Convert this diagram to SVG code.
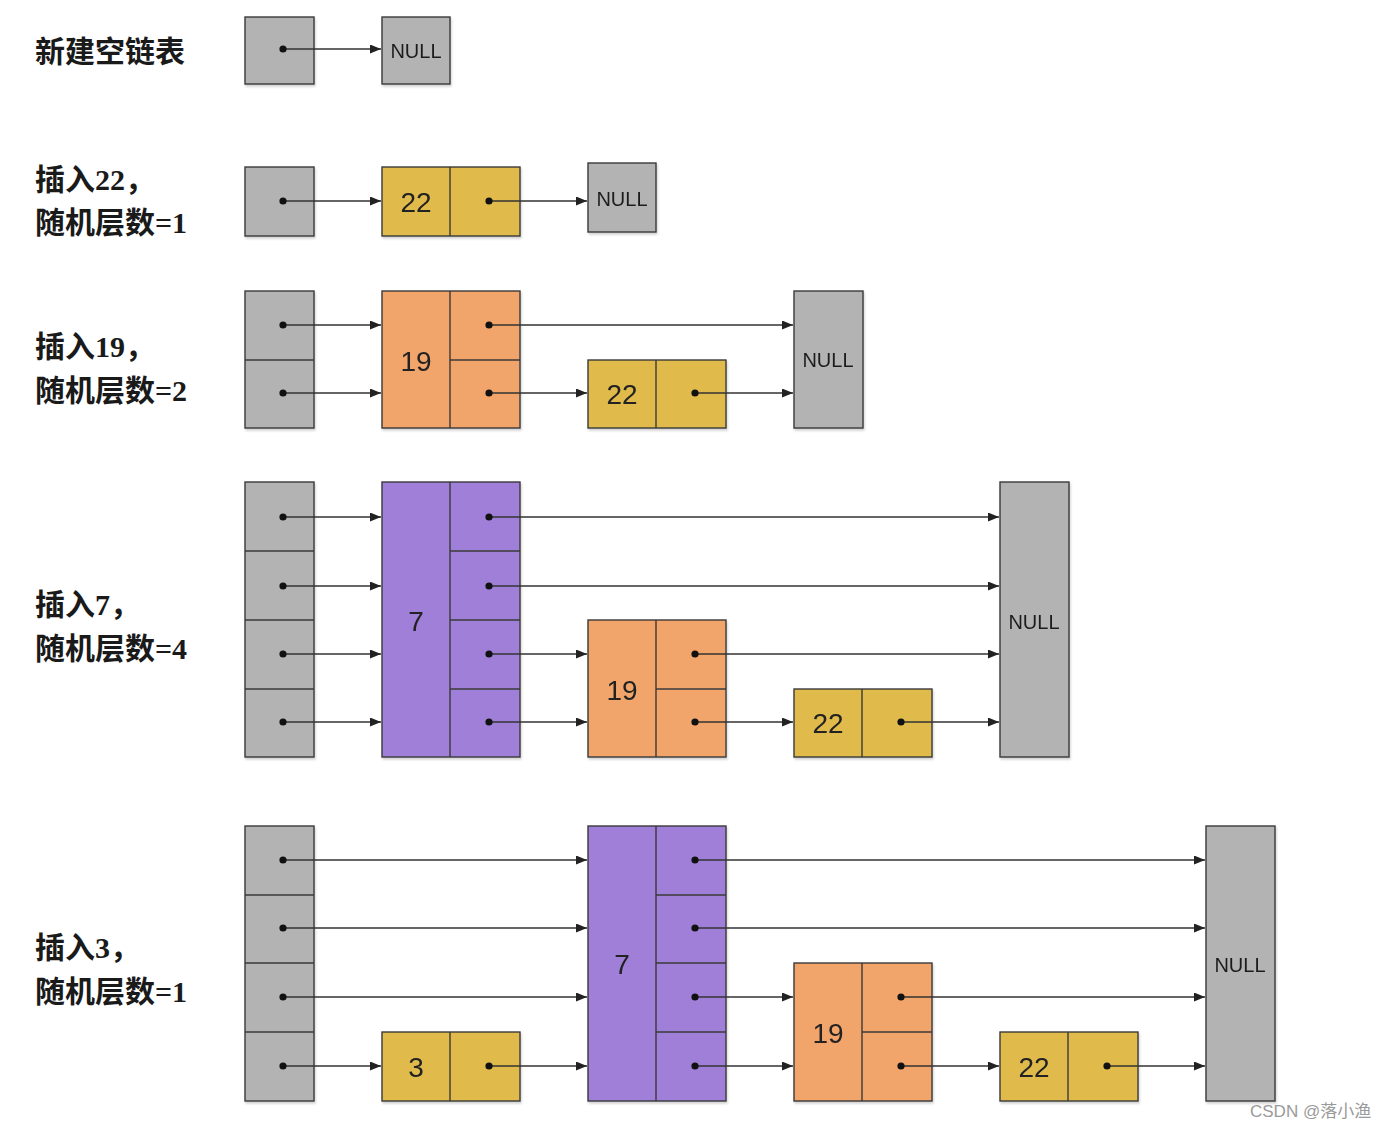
<svg xmlns="http://www.w3.org/2000/svg" width="1396" height="1130" viewBox="0 0 1396 1130">
<style>
.box{stroke:#3a3a3a;stroke-width:1.4}
.g{fill:#b3b3b3}.y{fill:#e0bb4c}.o{fill:#f2a56b}.p{fill:#a07fd8}
.sep{stroke:#3a3a3a;stroke-width:1.4;fill:none}
.num{font-family:"Liberation Sans",Arial,sans-serif;font-size:28px;fill:#222;text-anchor:middle;dominant-baseline:central}
.nul{font-family:"Liberation Sans",Arial,sans-serif;font-size:20px;fill:#1e1e1e;text-anchor:middle;dominant-baseline:central}
.lbl{font-family:"Liberation Serif","Noto Sans CJK SC",serif;font-weight:bold;font-size:30px;fill:#1a1a1a}
.arr{stroke:#333;stroke-width:1.3;fill:none;marker-start:url(#dot);marker-end:url(#head)}
.wm{font-family:"Liberation Sans","Noto Sans CJK SC",sans-serif;font-size:17px;fill:#9a9a9a}
</style>
<defs>
<marker id="head" viewBox="0 0 11 9" refX="11" refY="4.5" markerWidth="11" markerHeight="9" markerUnits="userSpaceOnUse" orient="auto"><path d="M0,0 L11,4.5 L0,9 Z" fill="#222"/></marker>
<marker id="dot" viewBox="0 0 8 8" refX="4" refY="4" markerWidth="8" markerHeight="8" markerUnits="userSpaceOnUse"><circle cx="4" cy="4" r="3.6" fill="#111"/></marker>
<filter id="sh" x="-10%" y="-10%" width="130%" height="130%"><feDropShadow dx="1" dy="2" stdDeviation="1.2" flood-color="#000" flood-opacity="0.18"/></filter>
</defs>
<rect width="1396" height="1130" fill="#fff"/>

<!-- labels -->
<g id="labels">
<text class="lbl" x="35" y="62">新建空链表</text>
<text class="lbl" x="35" y="190">插入22，</text>
<text class="lbl" x="35" y="233">随机层数=1</text>
<text class="lbl" x="35" y="357">插入19，</text>
<text class="lbl" x="35" y="401">随机层数=2</text>
<text class="lbl" x="35" y="615">插入7，</text>
<text class="lbl" x="35" y="659">随机层数=4</text>
<text class="lbl" x="35" y="958">插入3，</text>
<text class="lbl" x="35" y="1002">随机层数=1</text>
</g>

<!-- Row 1 -->
<g id="r1-head" filter="url(#sh)"><rect class="box g" x="245" y="17" width="69" height="67"/></g>
<g id="r1-null" filter="url(#sh)"><rect class="box g" x="382" y="17" width="68" height="67"/><text class="nul" x="416" y="51">NULL</text></g>

<!-- Row 2 -->
<g id="r2-head" filter="url(#sh)"><rect class="box g" x="245" y="167" width="69" height="69"/></g>
<g id="r2-n22" filter="url(#sh)"><rect class="box y" x="382" y="167" width="138" height="69"/><line class="sep" x1="450" y1="167" x2="450" y2="236"/><text class="num" x="416" y="202">22</text></g>
<g id="r2-null" filter="url(#sh)"><rect class="box g" x="588" y="163" width="68" height="69"/><text class="nul" x="622" y="199">NULL</text></g>

<!-- Row 3 -->
<g id="r3-head" filter="url(#sh)"><rect class="box g" x="245" y="291" width="69" height="137"/><line class="sep" x1="245" y1="360" x2="314" y2="360"/></g>
<g id="r3-n19" filter="url(#sh)"><rect class="box o" x="382" y="291" width="138" height="137"/><line class="sep" x1="450" y1="291" x2="450" y2="428"/><line class="sep" x1="450" y1="360" x2="520" y2="360"/><text class="num" x="416" y="361">19</text></g>
<g id="r3-n22" filter="url(#sh)"><rect class="box y" x="588" y="360" width="138" height="68"/><line class="sep" x1="656" y1="360" x2="656" y2="428"/><text class="num" x="622" y="394">22</text></g>
<g id="r3-null" filter="url(#sh)"><rect class="box g" x="794" y="291" width="69" height="137"/><text class="nul" x="828" y="360">NULL</text></g>

<!-- Row 4 -->
<g id="r4-head" filter="url(#sh)"><rect class="box g" x="245" y="482" width="69" height="275"/><line class="sep" x1="245" y1="551" x2="314" y2="551"/><line class="sep" x1="245" y1="620" x2="314" y2="620"/><line class="sep" x1="245" y1="689" x2="314" y2="689"/></g>
<g id="r4-n7" filter="url(#sh)"><rect class="box p" x="382" y="482" width="138" height="275"/><line class="sep" x1="450" y1="482" x2="450" y2="757"/><line class="sep" x1="450" y1="551" x2="520" y2="551"/><line class="sep" x1="450" y1="620" x2="520" y2="620"/><line class="sep" x1="450" y1="689" x2="520" y2="689"/><text class="num" x="416" y="621">7</text></g>
<g id="r4-n19" filter="url(#sh)"><rect class="box o" x="588" y="620" width="138" height="137"/><line class="sep" x1="656" y1="620" x2="656" y2="757"/><line class="sep" x1="656" y1="689" x2="726" y2="689"/><text class="num" x="622" y="690">19</text></g>
<g id="r4-n22" filter="url(#sh)"><rect class="box y" x="794" y="689" width="138" height="68"/><line class="sep" x1="862" y1="689" x2="862" y2="757"/><text class="num" x="828" y="723">22</text></g>
<g id="r4-null" filter="url(#sh)"><rect class="box g" x="1000" y="482" width="69" height="275"/><text class="nul" x="1034" y="622">NULL</text></g>

<!-- Row 5 -->
<g id="r5-head" filter="url(#sh)"><rect class="box g" x="245" y="826" width="69" height="275"/><line class="sep" x1="245" y1="895" x2="314" y2="895"/><line class="sep" x1="245" y1="963" x2="314" y2="963"/><line class="sep" x1="245" y1="1032" x2="314" y2="1032"/></g>
<g id="r5-n3" filter="url(#sh)"><rect class="box y" x="382" y="1032" width="138" height="69"/><line class="sep" x1="450" y1="1032" x2="450" y2="1101"/><text class="num" x="416" y="1067">3</text></g>
<g id="r5-n7" filter="url(#sh)"><rect class="box p" x="588" y="826" width="138" height="275"/><line class="sep" x1="656" y1="826" x2="656" y2="1101"/><line class="sep" x1="656" y1="895" x2="726" y2="895"/><line class="sep" x1="656" y1="963" x2="726" y2="963"/><line class="sep" x1="656" y1="1032" x2="726" y2="1032"/><text class="num" x="622" y="964">7</text></g>
<g id="r5-n19" filter="url(#sh)"><rect class="box o" x="794" y="963" width="138" height="138"/><line class="sep" x1="862" y1="963" x2="862" y2="1101"/><line class="sep" x1="862" y1="1032" x2="932" y2="1032"/><text class="num" x="828" y="1033">19</text></g>
<g id="r5-n22" filter="url(#sh)"><rect class="box y" x="1000" y="1032" width="138" height="69"/><line class="sep" x1="1068" y1="1032" x2="1068" y2="1101"/><text class="num" x="1034" y="1067">22</text></g>
<g id="r5-null" filter="url(#sh)"><rect class="box g" x="1206" y="826" width="69" height="275"/><text class="nul" x="1240" y="965">NULL</text></g>

<!-- connectors -->
<g id="connectors">
<line class="arr" x1="283" y1="49" x2="381" y2="49"/>
<line class="arr" x1="283" y1="201" x2="381" y2="201"/>
<line class="arr" x1="489" y1="201" x2="587" y2="201"/>
<line class="arr" x1="283" y1="325" x2="381" y2="325"/>
<line class="arr" x1="489" y1="325" x2="793" y2="325"/>
<line class="arr" x1="283" y1="393" x2="381" y2="393"/>
<line class="arr" x1="489" y1="393" x2="587" y2="393"/>
<line class="arr" x1="695" y1="393" x2="793" y2="393"/>
<line class="arr" x1="283" y1="517" x2="381" y2="517"/>
<line class="arr" x1="489" y1="517" x2="999" y2="517"/>
<line class="arr" x1="283" y1="586" x2="381" y2="586"/>
<line class="arr" x1="489" y1="586" x2="999" y2="586"/>
<line class="arr" x1="283" y1="654" x2="381" y2="654"/>
<line class="arr" x1="489" y1="654" x2="587" y2="654"/>
<line class="arr" x1="695" y1="654" x2="999" y2="654"/>
<line class="arr" x1="283" y1="722" x2="381" y2="722"/>
<line class="arr" x1="489" y1="722" x2="587" y2="722"/>
<line class="arr" x1="695" y1="722" x2="793" y2="722"/>
<line class="arr" x1="901" y1="722" x2="999" y2="722"/>
<line class="arr" x1="283" y1="860" x2="587" y2="860"/>
<line class="arr" x1="695" y1="860" x2="1205" y2="860"/>
<line class="arr" x1="283" y1="928" x2="587" y2="928"/>
<line class="arr" x1="695" y1="928" x2="1205" y2="928"/>
<line class="arr" x1="283" y1="997" x2="587" y2="997"/>
<line class="arr" x1="695" y1="997" x2="793" y2="997"/>
<line class="arr" x1="901" y1="997" x2="1205" y2="997"/>
<line class="arr" x1="283" y1="1066" x2="381" y2="1066"/>
<line class="arr" x1="489" y1="1066" x2="587" y2="1066"/>
<line class="arr" x1="695" y1="1066" x2="793" y2="1066"/>
<line class="arr" x1="901" y1="1066" x2="999" y2="1066"/>
<line class="arr" x1="1107" y1="1066" x2="1205" y2="1066"/>
</g>

<text class="wm" x="1250" y="1117">CSDN @落小渔</text>
</svg>
